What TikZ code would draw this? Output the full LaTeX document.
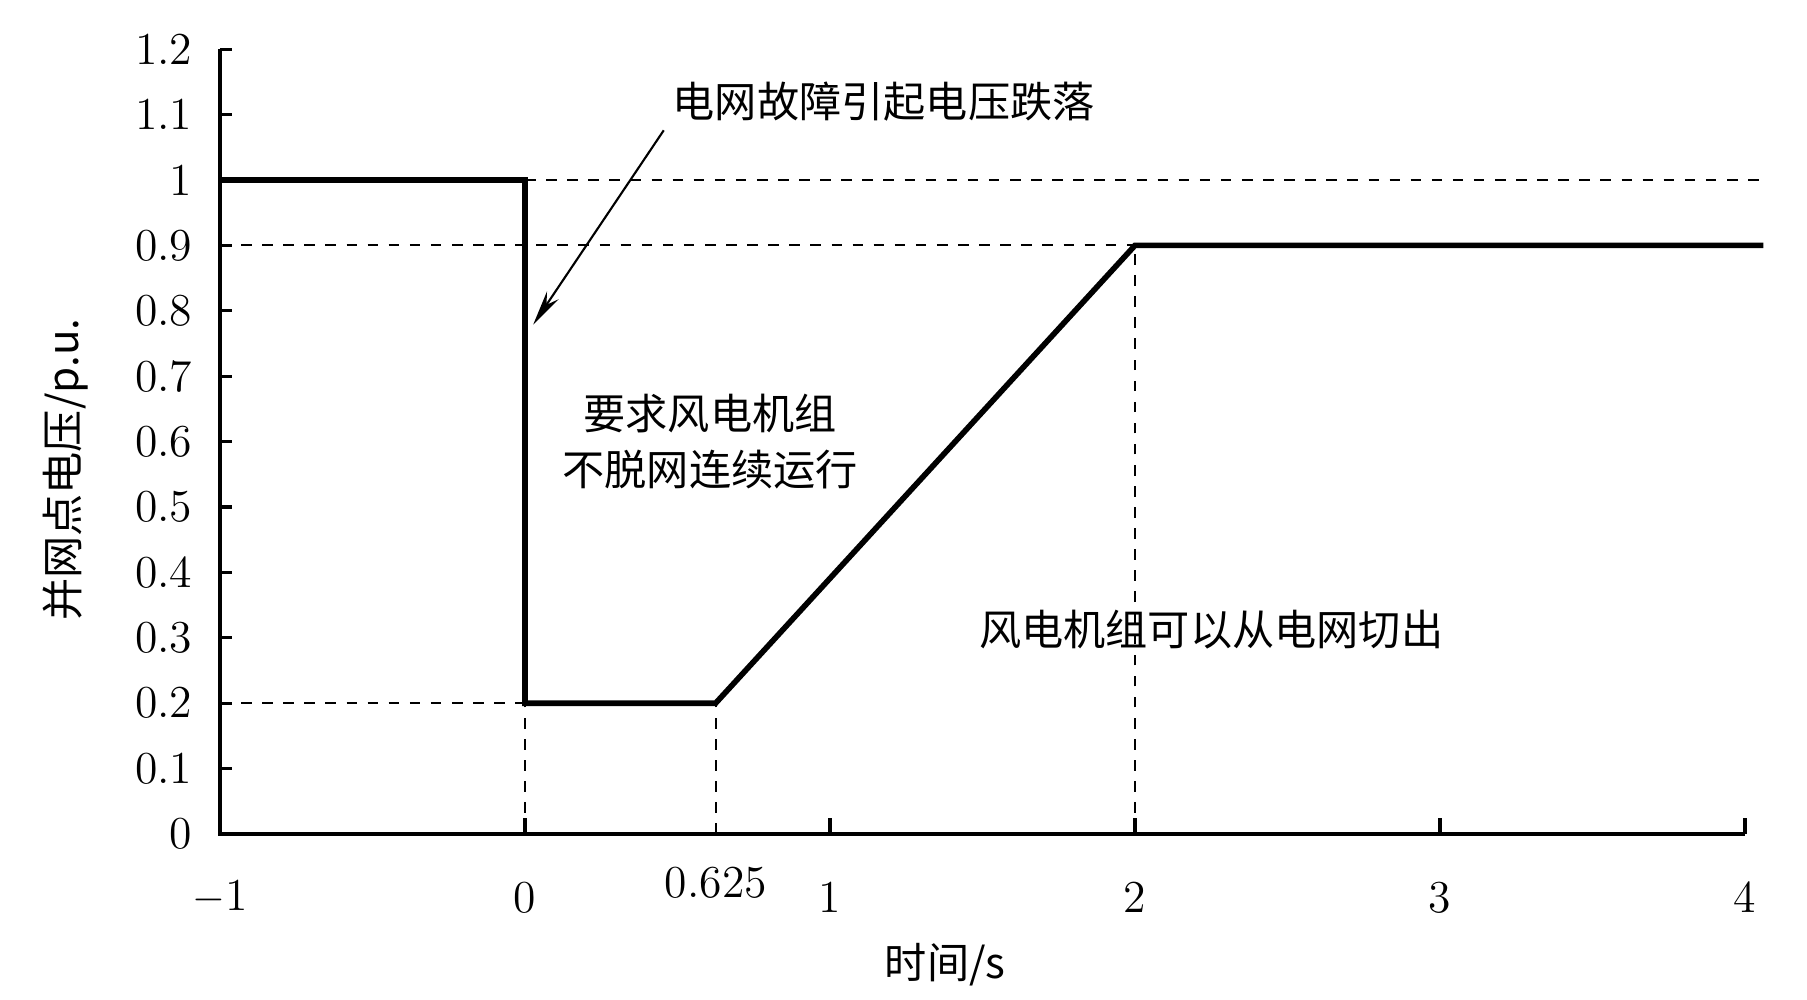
\documentclass[tikz,border=0pt]{standalone}
\usepackage{fontspec}
\usetikzlibrary{arrows.meta}
\newfontfamily\cjk{Noto Sans CJK SC}
\begin{document}
\begin{tikzpicture}[x=3.05cm,y=6.54cm,
  curve/.style={line width=1.6pt},
  guide/.style={dashed,line width=0.6pt},
  axis/.style={line width=0.9pt},
  lbl/.style={font=\cjk\fontsize{12}{16}\selectfont,align=center},
  num/.style={font=\fontsize{13}{15}\selectfont}]
\useasboundingbox (-1.7213,-0.2538) rectangle (4.2033,1.2752);
% axes
\draw[axis] (-1,1.2) -- (-1,0) -- (4,0);
\foreach \v/\t in {0/0,0.1/0.1,0.2/0.2,0.3/0.3,0.4/0.4,0.5/0.5,0.6/0.6,0.7/0.7,0.8/0.8,0.9/0.9,1/1,1.1/1.1,1.2/1.2}{
  \draw[axis] (-1,\v) -- (-0.96,\v);
  \node[num,anchor=east] (yl\t) at (-1.05,\v) {\t};}
\foreach \u in {0,1,2,3,4}{\draw[axis] (\u,0) -- (\u,0.025);}
\foreach \u in {-1,0,1,2,3,4}{\node[num] (xl\u) at (\u,-0.097) {\ifnum\u<0 $-$1\else\u\fi};}
\node[num] (x0625) at (0.626,-0.075) {0.625};
\node[lbl] (xlab) at (1.378,-0.2) {时间/s};
\node[lbl,rotate=90] (ylab) at (-1.507,0.557) {并网点电压/p.u.};
% guides
\draw[guide] (0,1) -- (4.06,1);
\draw[guide] (-1,0.9) -- (2,0.9);
\draw[guide] (-1,0.2) -- (0,0.2);
\draw[guide] (0,0) -- (0,0.2);
\draw[guide] (0.625,0) -- (0.625,0.2);
\draw[guide] (2,0) -- (2,0.9);
% curve
\draw[curve] (-1,1) -- (0,1) -- (0,0.2) -- (0.625,0.2) -- (2,0.9) -- (4.06,0.9);
% labels
\node[lbl] (fault) at (1.176,1.12) {电网故障引起电压跌落};
\coordinate (tip) at (0.027,0.779);
\coordinate (tail) at (0.455,1.076);
\draw[line width=0.6pt,-{Stealth[length=10pt,width=4pt]}] (tail) -- (tip);
\node[lbl] (req) at (0.607,0.6) {要求风电机组\\不脱网连续运行};
\node[lbl] (cut) at (2.25,0.313) {风电机组可以从电网切出};
\end{tikzpicture}
\end{document}
